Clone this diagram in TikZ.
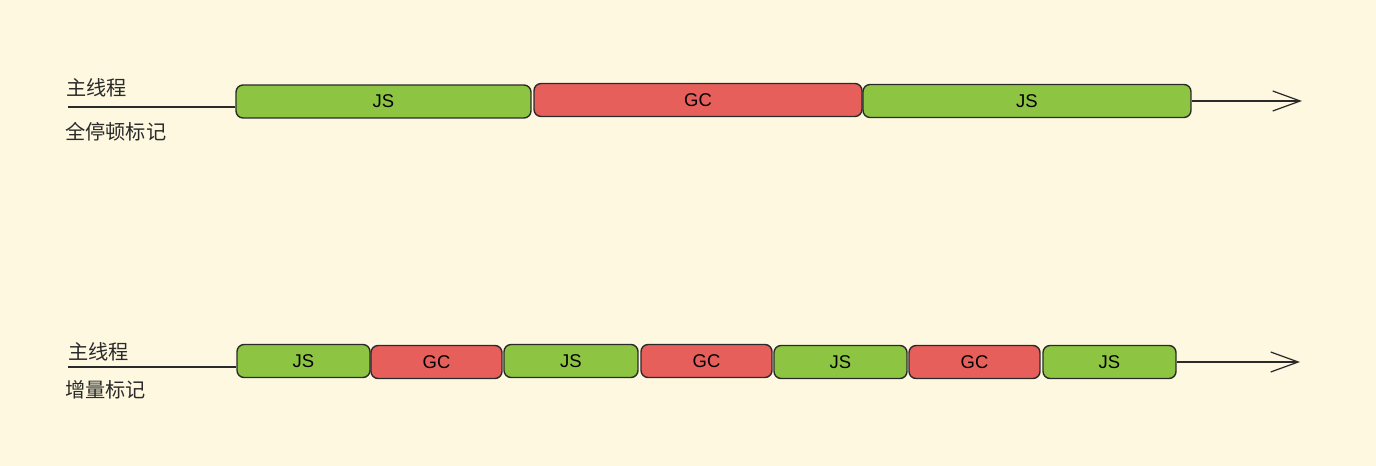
\documentclass[tikz,border=0pt]{standalone}
\usepackage{fontspec}
\setmainfont{Liberation Sans}
\newfontfamily\cjk{Noto Sans CJK SC}
\usetikzlibrary{arrows.meta}
\definecolor{paper}{HTML}{FEF8E0}
\definecolor{jsgreen}{HTML}{8DC543}
\definecolor{gcred}{HTML}{E65F5B}
\definecolor{ink}{HTML}{2A2A2A}
\begin{document}
\begin{tikzpicture}[
  x=0.02cm, y=-0.02cm,
  task/.style={draw=ink, line width=0.8pt, rounded corners=4pt, minimum height=#1,
               inner sep=0pt, text centered, font=\fontsize{10.5}{12}\selectfont},
  js/.style={task=0.66cm, fill=jsgreen},
  gc/.style={task=0.66cm, fill=gcred},
  lbl/.style={anchor=west, inner sep=0pt, font=\cjk\fontsize{11.5}{13}\selectfont, text=ink},
  track/.style={draw=ink, line width=0.7pt},
  flow/.style={track, -{Straight Barb[length=5.5mm, width=4mm, line width=0.7pt]}}
]
  \fill[paper] (0,0) rectangle (1376,466);

  %-- Full pause
  \node[lbl] (main1)  at (66, 88)  {主线程};
  \node[lbl] (pause)  at (65, 132) {全停顿标记};
  \coordinate (s1) at (68, 107);
  \coordinate (e1) at (1302, 101);
  \node[js, minimum width=5.9cm]  (js11) at (383.5, 101.5) {JS};
  \node[gc, minimum width=6.56cm] (gc11) at (698, 100)     {GC};
  \node[js, minimum width=6.56cm] (js12) at (1027, 101)    {JS};

  %-- Incremental
  \node[lbl] (main2) at (68, 352) {主线程};
  \node[lbl] (incr)  at (65, 390) {增量标记};
  \coordinate (s2) at (68, 367);
  \coordinate (e2) at (1300, 362);
  \node[js, minimum width=2.66cm] (js21) at (303.5, 361) {JS};
  \node[gc, minimum width=2.62cm] (gc21) at (436.5, 362) {GC};
  \node[js, minimum width=2.68cm] (js22) at (571, 361)   {JS};
  \node[gc, minimum width=2.62cm] (gc22) at (706.5, 361) {GC};
  \node[js, minimum width=2.66cm] (js23) at (840.5, 362) {JS};
  \node[gc, minimum width=2.62cm] (gc23) at (974.5, 362) {GC};
  \node[js, minimum width=2.66cm] (js24) at (1109.5, 362) {JS};

  %-- Tracks
  \draw[track] (s1) -- (s1 -| js11.west);
  \draw[flow]  (js12.east) -- (e1);
  \draw[track] (s2) -- (s2 -| js21.west);
  \draw[flow]  (js24.east) -- (e2);
\end{tikzpicture}
\end{document}
